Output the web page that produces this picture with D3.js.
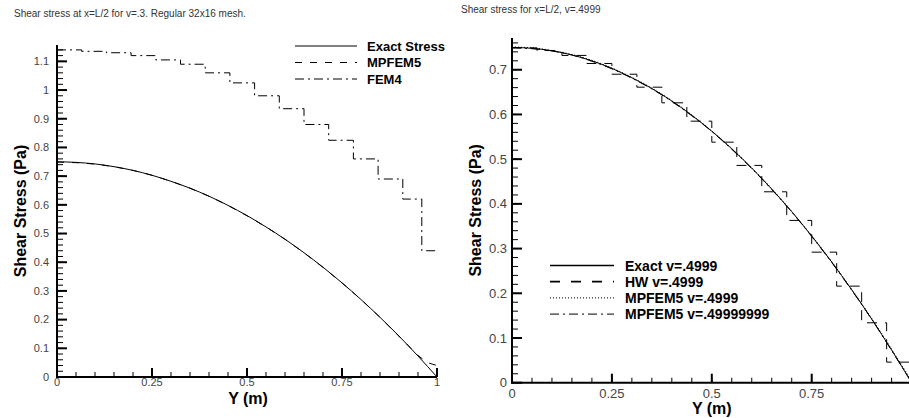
<!DOCTYPE html>
<html>
<head>
<meta charset="utf-8">
<script src="https://cdn.jsdelivr.net/npm/d3@7"></script>
<style>
  body { margin: 0; background: #fff; }
  svg { display: block; font-family: "Liberation Sans", Arial, sans-serif; }
  .title { font-size: 10px; fill: #333; }
  .tick-label { fill: #444; }
  .axis-title { font-size: 16px; font-weight: bold; fill: #000; }
  .legend-text { font-weight: bold; fill: #000; }
</style>
</head>
<body>
<svg id="chart" width="909" height="418"></svg>
<script>
// ---- data: left panel (v = .3, 32x16 mesh) ----
const yPos = [0, 0.05, 0.1, 0.15, 0.2, 0.25, 0.3, 0.35, 0.4, 0.45, 0.5,
              0.55, 0.6, 0.65, 0.7, 0.75, 0.8, 0.85, 0.9, 0.95, 1.0];
const leftExact = [0.75, 0.748, 0.7425, 0.733, 0.72, 0.703, 0.682, 0.658, 0.63, 0.598, 0.5625,
                   0.523, 0.48, 0.433, 0.3825, 0.328, 0.27, 0.208, 0.1425, 0.073, 0];
const leftMpfemPos = [0, 0.05, 0.1, 0.15, 0.2, 0.25, 0.3, 0.35, 0.4, 0.45, 0.5,
                      0.55, 0.6, 0.65, 0.7, 0.75, 0.8, 0.85, 0.9, 0.95, 0.975, 1.0];
const leftMpfem = [0.749, 0.747, 0.742, 0.733, 0.72, 0.703, 0.682, 0.658, 0.63, 0.598, 0.562,
                   0.523, 0.48, 0.433, 0.382, 0.328, 0.27, 0.208, 0.142, 0.075, 0.05, 0.04];
const fem4Edges = [0, 0.065, 0.13, 0.195, 0.26, 0.325, 0.39, 0.455, 0.52,
                   0.585, 0.65, 0.715, 0.78, 0.845, 0.91, 0.96, 1.0];
const fem4Vals = [1.14, 1.135, 1.13, 1.12, 1.105, 1.09, 1.06, 1.025,
                  0.98, 0.935, 0.88, 0.825, 0.76, 0.69, 0.62, 0.44];

// ---- data: right panel (v = .4999) ----
const rightExact = [0.75, 0.748, 0.7425, 0.733, 0.72, 0.703, 0.682, 0.658, 0.63, 0.598, 0.5625,
                    0.523, 0.48, 0.433, 0.3825, 0.328, 0.27, 0.208, 0.1425, 0.073, 0];
const hwEdges = [0, 0.0625, 0.125, 0.1875, 0.25, 0.3125, 0.375, 0.4375, 0.5,
                 0.5625, 0.625, 0.6875, 0.75, 0.8125, 0.875, 0.9375, 1.0];
const hwVals = [0.749, 0.743, 0.732, 0.714, 0.69, 0.661, 0.626, 0.585,
                0.538, 0.486, 0.427, 0.363, 0.292, 0.216, 0.134, 0.046];
const mp4999 = [0.751, 0.749, 0.743, 0.734, 0.721, 0.704, 0.683, 0.659, 0.631, 0.599, 0.563,
                0.524, 0.481, 0.434, 0.383, 0.329, 0.271, 0.209, 0.144, 0.075, 0.004];
const mp49999999 = [0.749, 0.747, 0.742, 0.733, 0.719, 0.702, 0.681, 0.657, 0.629, 0.597, 0.562,
                    0.522, 0.479, 0.432, 0.382, 0.327, 0.269, 0.207, 0.142, 0.072, 0.001];

// ---- ticks ----
const leftXTicks = [0, 0.25, 0.5, 0.75, 1];
const rightXTicks = [0, 0.25, 0.5, 0.75];
const leftYTicks = [0, 0.1, 0.2, 0.3, 0.4, 0.5, 0.6, 0.7, 0.8, 0.9, 1, 1.1];
const rightYTicks = [0, 0.1, 0.2, 0.3, 0.4, 0.5, 0.6, 0.7];

const leftLegend = [
  { label: "Exact Stress", dash: null },
  { label: "MPFEM5", dash: "7,8" },
  { label: "FEM4", dash: "9,4,2,4" }
];
const rightLegend = [
  { label: "Exact v=.4999", dash: null, w: 1.6 },
  { label: "HW v=.4999", dash: "10,11", w: 1.8 },
  { label: "MPFEM5 v=.4999", dash: "1,2", w: 1 },
  { label: "MPFEM5 v=.49999999", dash: "9,4,2,4", w: 1 }
];

const svg = d3.select("#chart");

function panel(opts) {
  const g = svg.append("g");
  const x = d3.scaleLinear().domain([0, 1]).range(opts.xRange);
  const y = d3.scaleLinear().domain(opts.yDomain).range(opts.yRange);

  // minor ticks
  const xMinor = d3.range(0, 1.0001, 0.05);
  const yMinor = d3.range(0, opts.yDomain[1], 0.02);
  g.selectAll(".xminor").data(xMinor).enter().append("line")
    .attr("x1", d => x(d)).attr("x2", d => x(d))
    .attr("y1", y(0)).attr("y2", y(0) - 5)
    .attr("stroke", "#000").attr("stroke-width", 1);
  g.selectAll(".yminor").data(yMinor).enter().append("line")
    .attr("x1", x(0)).attr("x2", x(0) + 6)
    .attr("y1", d => y(d)).attr("y2", d => y(d))
    .attr("stroke", "#000").attr("stroke-width", 1);
  // major ticks
  g.selectAll(".xmajor").data([0, 0.25, 0.5, 0.75, 1]).enter().append("line")
    .attr("x1", d => x(d)).attr("x2", d => x(d))
    .attr("y1", y(0)).attr("y2", y(0) - 9)
    .attr("stroke", "#000").attr("stroke-width", 2);
  g.selectAll(".ymajor").data(opts.yTicks).enter().append("line")
    .attr("x1", x(0)).attr("x2", x(0) + 10)
    .attr("y1", d => y(d)).attr("y2", d => y(d))
    .attr("stroke", "#000").attr("stroke-width", 2);

  // axis lines
  g.append("line").attr("x1", x(0)).attr("x2", x(0))
    .attr("y1", y(0) + 1).attr("y2", opts.yRange[1])
    .attr("stroke", "#000").attr("stroke-width", 2);
  g.append("line").attr("x1", x(0) - 1).attr("x2", opts.xRange[1])
    .attr("y1", y(0)).attr("y2", y(0))
    .attr("stroke", "#000").attr("stroke-width", 2);

  // tick labels
  g.selectAll(".xlab").data(opts.xTicks).enter().append("text")
    .attr("class", "tick-label")
    .attr("x", d => x(d)).attr("y", opts.xLabelY)
    .attr("text-anchor", "middle").style("font-size", opts.tickFont + "px")
    .text(d => String(d));
  g.selectAll(".ylab").data(opts.yTicks).enter().append("text")
    .attr("class", "tick-label")
    .attr("x", x(0) - opts.yLabelGap).attr("y", d => y(d) + opts.tickFont * 0.35)
    .attr("text-anchor", "end").style("font-size", opts.tickFont + "px")
    .text(d => String(d));

  // axis titles
  g.append("text").attr("class", "axis-title")
    .attr("x", (x(0) + x(1)) / 2 + opts.xTitleShift).attr("y", opts.xTitleY)
    .attr("text-anchor", "middle").text("Y (m)");
  g.append("text").attr("class", "axis-title")
    .attr("transform", `translate(${opts.yTitleX},${(opts.yRange[0] + opts.yRange[1]) / 2}) rotate(-90)`)
    .attr("text-anchor", "middle").text("Shear Stress (Pa)");

  // title
  g.append("text").attr("class", "title")
    .attr("x", opts.titleX).attr("y", opts.titleY).text(opts.title);

  return { g, x, y };
}

// ---- left panel ----
const L = panel({
  xRange: [57, 437], yDomain: [0, 1.157], yRange: [377, 45],
  xTicks: leftXTicks, yTicks: leftYTicks, tickFont: 11, xLabelY: 386, yLabelGap: 8,
  xTitleY: 404, xTitleShift: 1, yTitleX: 26,
  titleX: 14, titleY: 17, title: "Shear stress at x=L/2 for v=.3.  Regular 32x16 mesh."
});

L.g.append("path").datum(yPos.map((p, i) => [p, leftExact[i]]))
  .attr("d", d3.line().x(d => L.x(d[0])).y(d => L.y(d[1])).curve(d3.curveMonotoneX))
  .attr("fill", "none").attr("stroke", "#000").attr("stroke-width", 1);
L.g.append("path").datum(leftMpfemPos.map((p, i) => [p, leftMpfem[i]]))
  .attr("d", d3.line().x(d => L.x(d[0])).y(d => L.y(d[1])))
  .attr("fill", "none").attr("stroke", "#000").attr("stroke-width", 1)
  .attr("stroke-dasharray", "7,8");
const fem4Pts = fem4Vals.map((v, i) => [fem4Edges[i], v]);
fem4Pts.push([fem4Edges[fem4Edges.length - 1], fem4Vals[fem4Vals.length - 1]]);
L.g.append("path").datum(fem4Pts)
  .attr("d", d3.line().x(d => L.x(d[0])).y(d => L.y(d[1])).curve(d3.curveStepAfter))
  .attr("fill", "none").attr("stroke", "#000").attr("stroke-width", 1)
  .attr("stroke-dasharray", "9,4,2,4");

// left legend
leftLegend.forEach((d, i) => {
  const yy = 46 + i * 16.5;
  L.g.append("line").attr("x1", 295).attr("x2", 357).attr("y1", yy).attr("y2", yy)
    .attr("stroke", "#000").attr("stroke-width", 1)
    .attr("stroke-dasharray", d.dash);
  L.g.append("text").attr("class", "legend-text").style("font-size", "13px")
    .attr("x", 367).attr("y", yy + 4.5).text(d.label);
});

// ---- right panel ----
svg.append("defs").append("clipPath").attr("id", "clipR")
  .append("rect").attr("x", 512).attr("y", 30).attr("width", 397).attr("height", 360);

const R = panel({
  xRange: [512, 911.6], yDomain: [0, 0.771], yRange: [382.7, 38],
  xTicks: rightXTicks, yTicks: rightYTicks, tickFont: 13, xLabelY: 398, yLabelGap: 5,
  xTitleY: 414, xTitleShift: 0, yTitleX: 481,
  titleX: 461, titleY: 13, title: "Shear stress for x=L/2, v=.4999"
});

const lineR = d3.line().x(d => R.x(d[0])).y(d => R.y(d[1])).curve(d3.curveMonotoneX);
const plotR = R.g.append("g").attr("clip-path", "url(#clipR)");
plotR.append("path").datum(yPos.map((p, i) => [p, rightExact[i]]))
  .attr("d", lineR).attr("fill", "none").attr("stroke", "#000").attr("stroke-width", 1);
const hwPts = hwVals.map((v, i) => [hwEdges[i], v]);
hwPts.push([hwEdges[hwEdges.length - 1], hwVals[hwVals.length - 1]]);
plotR.append("path").datum(hwPts)
  .attr("d", d3.line().x(d => R.x(d[0])).y(d => R.y(d[1])).curve(d3.curveStepAfter))
  .attr("fill", "none").attr("stroke", "#000").attr("stroke-width", 1)
  .attr("stroke-dasharray", "10,8");
plotR.append("path").datum(yPos.map((p, i) => [p, mp4999[i]]))
  .attr("d", lineR).attr("fill", "none").attr("stroke", "#000").attr("stroke-width", 1)
  .attr("stroke-dasharray", "1,2");
plotR.append("path").datum(yPos.map((p, i) => [p, mp49999999[i]]))
  .attr("d", lineR).attr("fill", "none").attr("stroke", "#000").attr("stroke-width", 1)
  .attr("stroke-dasharray", "9,4,2,4");

// right legend
rightLegend.forEach((d, i) => {
  const yy = 265.5 + i * 16.2;
  R.g.append("line").attr("x1", 550).attr("x2", 614).attr("y1", yy).attr("y2", yy)
    .attr("stroke", "#000").attr("stroke-width", d.w)
    .attr("stroke-dasharray", d.dash);
  R.g.append("text").attr("class", "legend-text").style("font-size", "14px")
    .attr("x", 625).attr("y", yy + 5).text(d.label);
});
</script>
</body>
</html>
